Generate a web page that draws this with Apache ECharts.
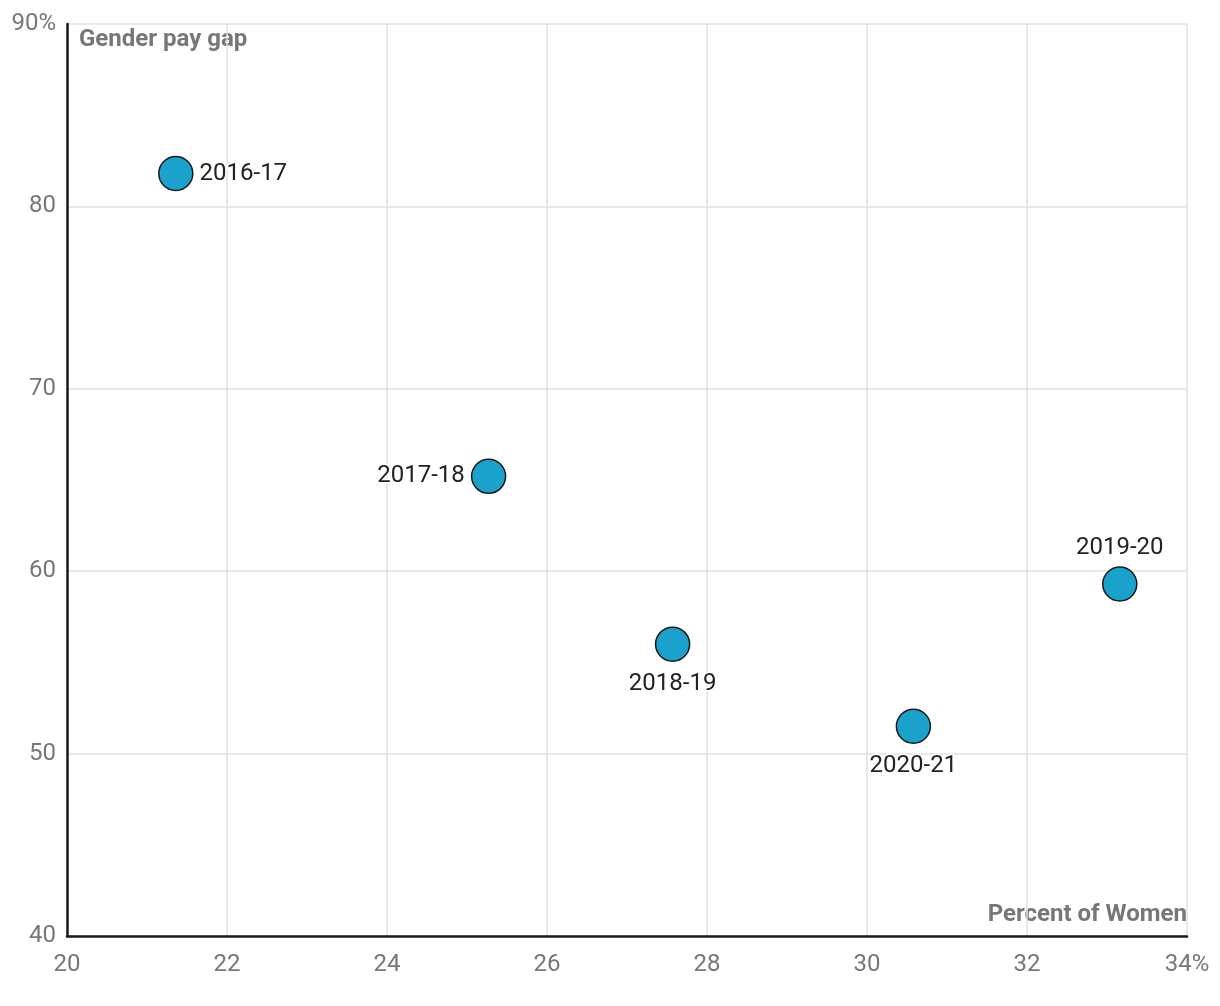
<!DOCTYPE html>
<html><head><meta charset="utf-8">
<script src="https://cdn.jsdelivr.net/npm/echarts@6/dist/echarts.min.js"></script>
<style>html,body{margin:0;padding:0;background:#fff}#c{width:1220px;height:1006px}</style>
</head><body><div id="c"></div>
<script>
const years = ['2016-17','2017-18','2018-19','2019-20','2020-21'];
const percentWomen = [21.36, 25.27, 27.57, 33.16, 30.58];
const payGap = [81.8, 65.2, 56.0, 59.3, 51.5];
const labelPos = ['right','left','bottom','top','bottom'];
const xTitle = 'Percent of Women';
const yTitle = 'Gender pay gap';

const chart = echarts.init(document.getElementById('c'));
const font = 'Roboto, "Noto Sans", sans-serif';
chart.setOption({
  animation: false,
  grid: {left: 67, right: 33, top: 24, bottom: 70, containLabel: false},
  xAxis: {
    type: 'value', min: 20, max: 34, interval: 2,
    axisLine: {show: true, lineStyle: {color: '#1a1a1a', width: 2.5}},
    axisTick: {show: false},
    splitLine: {show: true, lineStyle: {color: '#e1e1e1', width: 1.5}},
    axisLabel: {color: '#777', fontSize: 24, fontFamily: font, margin: 17,
      formatter: v => v === 34 ? v + '%' : String(v)}
  },
  yAxis: {
    type: 'value', min: 40, max: 90, interval: 10,
    axisLine: {show: true, lineStyle: {color: '#1a1a1a', width: 2.5}},
    axisTick: {show: false},
    splitLine: {show: true, lineStyle: {color: '#e1e1e1', width: 1.5}},
    axisLabel: {color: '#777', fontSize: 24, fontFamily: font, margin: 11,
      formatter: v => v === 90 ? v + '%' : String(v)}
  },
  graphic: [
    {type: 'text', left: 79, top: 28, style: {text: yTitle, fill: '#777', font: 'bold 24px ' + font}},
    {type: 'text', right: 33, top: 903, style: {text: xTitle, fill: '#777', font: 'bold 24px ' + font}}
  ],
  series: [{
    type: 'scatter',
    symbolSize: 34,
    itemStyle: {color: '#1aa1cc', borderColor: '#1a1a1a', borderWidth: 1.5, opacity: 1},
    data: years.map((y, i) => ({
      value: [percentWomen[i], payGap[i]], name: y,
      label: {position: labelPos[i], distance: labelPos[i] === 'bottom' ? 10 : 6}
    })),
    label: {
      show: true, formatter: p => p.name, color: '#222', fontSize: 24, fontFamily: font,
      textBorderColor: '#fff', textBorderWidth: 3
    }
  }]
});
</script></body></html>
